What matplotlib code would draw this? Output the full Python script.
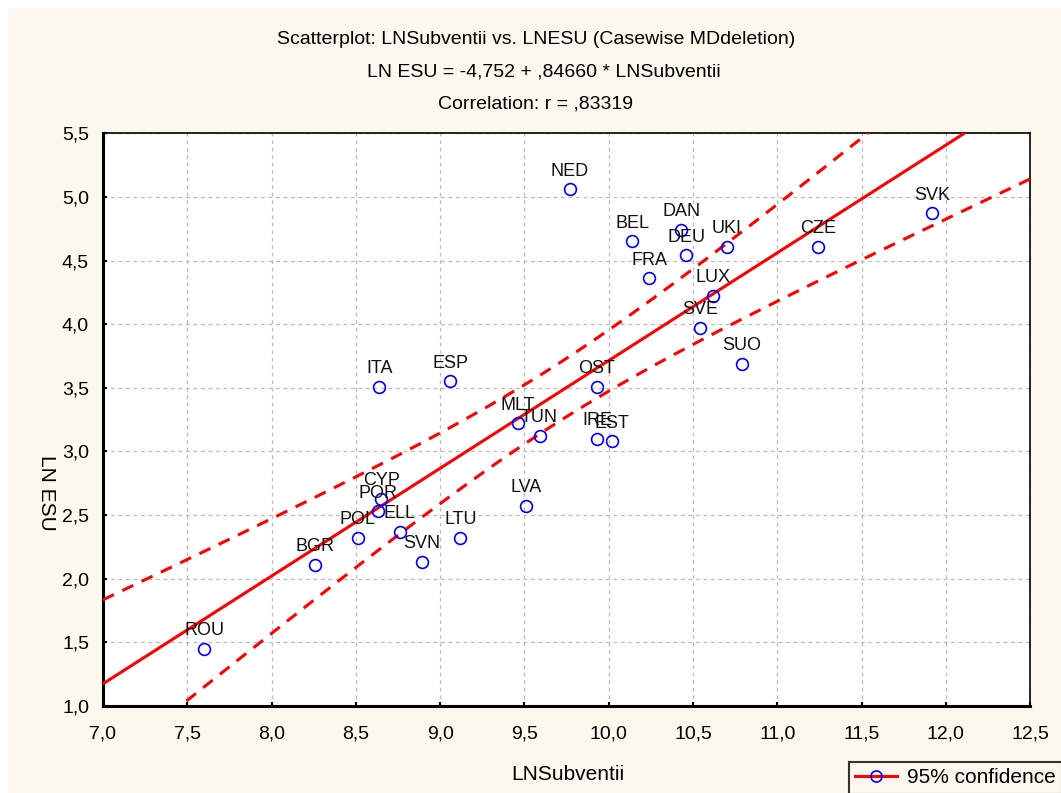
import numpy as np
import matplotlib
matplotlib.use("Agg")
import matplotlib.pyplot as plt
import matplotlib.ticker as mticker
from matplotlib.lines import Line2D
from matplotlib.patches import Rectangle

# country codes with LN Subventii (x) and LN ESU (y)
countries = ["ROU", "BGR", "POL", "POR", "CYP", "ELL", "SVN", "LTU", "LVA", "ITA",
             "ESP", "MLT", "TUN", "OST", "IRE", "EST", "NED", "BEL", "DAN", "DEU",
             "UKI", "FRA", "LUX", "SVE", "SUO", "CZE", "SVK"]
ln_subventii = [7.60, 8.26, 8.51, 8.63, 8.65, 8.76, 8.89, 9.12, 9.51, 8.64,
                9.06, 9.46, 9.59, 9.93, 9.93, 10.02, 9.77, 10.14, 10.43, 10.46,
                10.70, 10.24, 10.62, 10.54, 10.79, 11.24, 11.92]
ln_esu = [1.45, 2.11, 2.32, 2.53, 2.63, 2.37, 2.13, 2.32, 2.57, 3.51,
          3.55, 3.22, 3.12, 3.51, 3.10, 3.08, 5.06, 4.65, 4.74, 4.54,
          4.61, 4.36, 4.22, 3.97, 3.69, 4.61, 4.87]

# regression as printed in the title
intercept = -4.752
slope = 0.84660
t_crit = 2.052  # t(0.975, n-2)

xticks = [7.0, 7.5, 8.0, 8.5, 9.0, 9.5, 10.0, 10.5, 11.0, 11.5, 12.0, 12.5]
yticks = [1.0, 1.5, 2.0, 2.5, 3.0, 3.5, 4.0, 4.5, 5.0, 5.5]


def comma_fmt(v, pos):
    return f"{v:.1f}".replace(".", ",")


def main():
    plt.rcParams["font.family"] = ["Liberation Sans", "DejaVu Sans"]

    x = np.array(ln_subventii)
    y = np.array(ln_esu)
    n = len(x)
    resid = y - (intercept + slope * x)
    s = np.sqrt(np.sum(resid ** 2) / (n - 2))
    sxx = np.sum((x - x.mean()) ** 2)

    xx = np.linspace(xticks[0], xticks[-1], 200)
    fit = intercept + slope * xx
    half = t_crit * s * np.sqrt(1.0 / n + (xx - x.mean()) ** 2 / sxx)

    bg = "#fcf8ee"
    fig = plt.figure(figsize=(10.61, 7.93), dpi=100, facecolor=bg)
    # thin white border along the top and left edges
    fig.patches.append(Rectangle((0, 1 - 8 / 793), 1, 8 / 793, transform=fig.transFigure,
                                 facecolor="white", edgecolor="none", zorder=0))
    fig.patches.append(Rectangle((0, 0), 8 / 1061, 1, transform=fig.transFigure,
                                 facecolor="white", edgecolor="none", zorder=0))

    ax = fig.add_axes([0.097, 0.1097, 0.874, 0.7223])
    ax.set_facecolor("white")

    ax.plot(xx, fit, color="red", linewidth=2.2, zorder=3)
    ax.plot(xx, fit + half, color="red", linewidth=2.2, linestyle=(0, (4, 3)), zorder=3)
    ax.plot(xx, fit - half, color="red", linewidth=2.2, linestyle=(0, (4, 3)), zorder=3)

    ax.plot(x, y, linestyle="none", marker="o", markersize=8.5, markerfacecolor="none",
            markeredgecolor="blue", markeredgewidth=1.2, zorder=4)

    for name, xi, yi in zip(countries, x, y):
        ax.annotate(name, (xi, yi), xytext=(0, 7), textcoords="offset points",
                    ha="center", va="bottom", fontsize=13, color="#111111", zorder=5)

    ax.set_xlim(xticks[0], xticks[-1])
    ax.set_ylim(yticks[0], yticks[-1])
    ax.set_xticks(xticks)
    ax.set_yticks(yticks)
    ax.xaxis.set_major_formatter(mticker.FuncFormatter(comma_fmt))
    ax.yaxis.set_major_formatter(mticker.FuncFormatter(comma_fmt))
    ax.tick_params(axis="both", direction="in", length=3, width=1.5, labelsize=14)
    ax.tick_params(axis="x", pad=14)
    ax.tick_params(axis="y", pad=10)
    ax.grid(True, color="#bbbbbb", linestyle=(0, (3, 3)), linewidth=0.9)
    for side in ["left", "bottom"]:
        ax.spines[side].set_linewidth(2.2)
    for side in ["top", "right"]:
        ax.spines[side].set_linewidth(1.2)

    fig.text(568 / 1061, 1 - 775 / 793, "LNSubventii", ha="center", va="center", fontsize=15)
    fig.text(46 / 1061, 1 - 493 / 793, "LN ESU", ha="center", va="center",
             rotation=270, fontsize=15)

    fig.text(0.505, 0.950, "Scatterplot: LNSubventii vs. LNESU (Casewise MDdeletion)",
             ha="center", va="center", fontsize=14)
    fig.text(0.513, 0.909, "LN ESU = -4,752 + ,84660 * LNSubventii",
             ha="center", va="center", fontsize=14)
    fig.text(0.505, 0.869, "Correlation: r = ,83319",
             ha="center", va="center", fontsize=14)

    handle = Line2D([0], [0], color="red", linewidth=2.2, marker="o", markersize=8,
                    markerfacecolor="none", markeredgecolor="blue", markeredgewidth=1.2)
    leg = fig.legend([handle], ["95% confidence"], loc="lower left",
                     bbox_to_anchor=(0.790, -0.014), fontsize=15, frameon=True,
                     fancybox=False, handlelength=2.0, borderpad=0.3,
                     handletextpad=0.5)
    leg.get_frame().set_edgecolor("black")
    leg.get_frame().set_linewidth(1.5)
    leg.get_frame().set_facecolor(bg)

    fig.savefig("out.png", dpi=100, facecolor=bg)


if __name__ == "__main__":
    main()
